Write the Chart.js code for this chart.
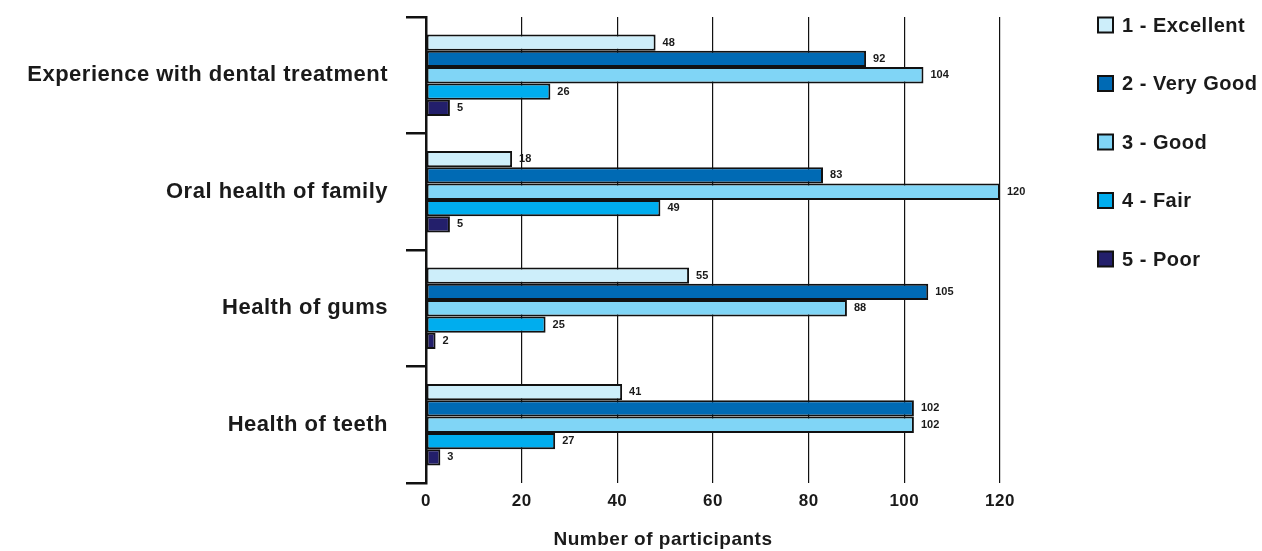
<!DOCTYPE html>
<html>
<head>
<meta charset="utf-8">
<title>Self-rated oral health</title>
<script src="https://cdn.jsdelivr.net/npm/chart.js@4.4.0/dist/chart.umd.min.js"></script>
<style>
  html, body { margin: 0; padding: 0; background: #fff; }
  #wrap { position: relative; width: 1262px; height: 551px; }
</style>
</head>
<body>
<div id="wrap"><canvas id="chart" width="1262" height="551"></canvas></div>
<script>
// categories top -> bottom
const categories = ['Experience with dental treatment', 'Oral health of family', 'Health of gums', 'Health of teeth'];
const ratingNames = ['1 - Excellent', '2 - Very Good', '3 - Good', '4 - Fair', '5 - Poor'];
const ratingColors = ['#cdeefa', '#006ab4', '#80d5f6', '#00adee', '#231f6b'];

// values per rating, one entry per category
const excellent = [48, 18, 55, 41];
const veryGood  = [92, 83, 105, 102];
const good      = [104, 120, 88, 102];
const fair      = [26, 49, 25, 27];
const poor      = [5, 5, 2, 3];

const xTicks = [0, 20, 40, 60, 80, 100, 120];
const xTitle = 'Number of participants';

const FONT = '"Liberation Sans", Arial, Helvetica, sans-serif';
const INK = '#1a1a1a';
const TRACK = '0.5px'; // the original type is a little wider set than Liberation

const spacing = {
  id: 'spacing',
  beforeLayout(chart) { chart.ctx.letterSpacing = TRACK; },
  beforeDraw(chart) { chart.ctx.letterSpacing = TRACK; }
};

// value labels to the right of each bar
const barLabels = {
  id: 'barLabels',
  afterDatasetsDraw(chart) {
    const ctx = chart.ctx;
    ctx.save();
    ctx.letterSpacing = '0px';
    ctx.font = 'bold 11px ' + FONT;
    ctx.fillStyle = INK;
    ctx.textBaseline = 'middle';
    ctx.textAlign = 'left';
    chart.data.datasets.forEach((ds, i) => {
      chart.getDatasetMeta(i).data.forEach((bar, j) => {
        ctx.fillText(String(ds.data[j]), bar.x + 7, bar.y);
      });
    });
    ctx.restore();
  }
};

// legend column on the right + axis title (sits left of centre in the original)
const sideLegend = {
  id: 'sideLegend',
  afterDraw(chart) {
    const ctx = chart.ctx;
    const x0 = 1098, y0 = 25, step = 58.5, box = 15;
    ctx.save();
    ctx.letterSpacing = TRACK;
    ctx.font = 'bold 20px ' + FONT;
    ctx.textBaseline = 'middle';
    ctx.textAlign = 'left';
    chart.data.datasets.forEach((ds, i) => {
      const cy = y0 + i * step;
      ctx.fillStyle = ds.backgroundColor;
      ctx.fillRect(x0, cy - box / 2, box, box);
      ctx.lineWidth = 2;
      ctx.strokeStyle = '#111';
      ctx.strokeRect(x0, cy - box / 2, box, box);
      ctx.fillStyle = INK;
      ctx.fillText(ds.label, x0 + 24, cy + 1);
    });
    ctx.font = 'bold 19px ' + FONT;
    ctx.textAlign = 'center';
    ctx.fillText(xTitle, 663, 540);
    ctx.restore();
  }
};

const series = [excellent, veryGood, good, fair, poor];

new Chart(document.getElementById('chart'), {
  type: 'bar',
  data: {
    labels: categories,
    datasets: series.map((vals, i) => ({
      label: ratingNames[i],
      data: vals,
      backgroundColor: ratingColors[i],
      borderColor: '#111',
      borderWidth: 2,
      borderSkipped: false,
      barPercentage: 1,
      categoryPercentage: 0.7
    }))
  },
  options: {
    indexAxis: 'y',
    responsive: false,
    animation: false,
    layout: { padding: { top: 17, right: 262, bottom: 0, left: 0 } },
    plugins: {
      legend: { display: false },
      tooltip: { enabled: false }
    },
    scales: {
      x: {
        min: 0, max: 120,
        afterBuildTicks: (s) => { s.ticks = xTicks.map(v => ({ value: v })); },
        afterFit: (s) => { s.height = 68; s.paddingLeft = 0; s.paddingRight = 0; },
        border: { display: false },
        grid: { color: '#111', lineWidth: 1.2, drawTicks: false },
        ticks: { color: INK, font: { family: FONT, size: 17, weight: 'bold' }, padding: 8 }
      },
      y: {
        afterFit: (s) => { s.width = 426; s.paddingTop = 0; s.paddingBottom = 0; },
        border: { display: true, color: '#111', width: 2.5 },
        grid: { drawOnChartArea: false, drawTicks: true, offset: true, tickLength: 20, color: '#111', lineWidth: 2.5 },
        ticks: { color: INK, font: { family: FONT, size: 22, weight: 'bold' }, padding: 18 }
      }
    }
  },
  plugins: [spacing, barLabels, sideLegend]
});
</script>
</body>
</html>
